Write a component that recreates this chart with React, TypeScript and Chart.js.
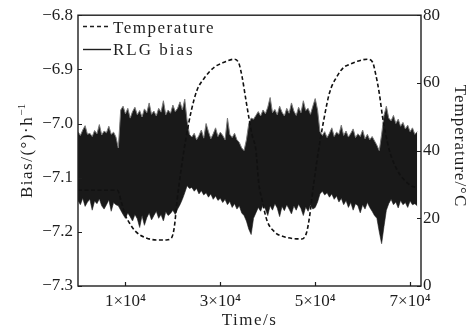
import React, { useEffect, useRef } from 'react';
import { Chart, registerables } from 'chart.js';

Chart.register(...registerables);

// RLG bias envelope, sampled every 500 s from t = 0 (values in °/h)
const biasStepSeconds = 500;
const biasUpper = [
  -7.015, -7.022, -7.012, -7.004, -7.020, -7.018, -7.024, -7.013, -7.019, -7.002, -7.021, -7.014, -7.017, -7.005, -7.020, -7.016, -7.025,
  -7.045,
  -6.975, -6.968, -6.982, -6.972, -6.990, -6.978, -6.970, -6.984, -6.976, -6.988, -6.973, -6.980, -6.962, -6.983, -6.977, -6.986, -6.972, -6.979, -6.958, -6.984, -6.975, -6.981, -6.966, -6.978, -6.972, -6.960, -6.975, -6.955,
  -6.995, -7.020,
  -7.025, -7.018, -7.030, -7.022, -7.012, -7.027, -7.000, -7.015, -7.028, -7.019, -7.008, -7.024, -7.016, -7.022, -7.030, -6.990, -7.020, -7.026, -7.018, -7.030, -7.035,
  -7.045, -7.050,
  -7.030, -7.000, -6.990,
  -6.992, -6.985, -6.978, -6.986, -6.975, -6.982, -6.970, -6.952, -6.980, -6.974, -6.984, -6.968, -6.979, -6.986, -6.972, -6.981, -6.962, -6.977, -6.985, -6.970, -6.980, -6.958, -6.976, -6.972, -6.983, -6.968, -6.954, -6.975,
  -7.015,
  -7.022, -7.015, -7.026, -7.018, -7.008, -7.024, -7.016, -7.020, -7.003, -7.022, -7.014, -7.025, -7.018, -7.010, -7.026, -7.019, -7.024, -7.012, -7.028, -7.020, -7.030, -7.024, -7.032,
  -7.040, -7.050, -7.020,
  -6.985, -6.968, -6.990, -6.995, -6.985, -7.000, -6.992, -7.005, -6.998, -7.010, -7.003, -7.015, -7.008, -7.020, -7.015,
];
const biasLower = [
  -7.142, -7.150, -7.138, -7.153, -7.145, -7.140, -7.160, -7.143, -7.148, -7.139, -7.152, -7.158, -7.150, -7.141, -7.162, -7.146, -7.150,
  -7.152,
  -7.160, -7.168, -7.175, -7.165, -7.172, -7.180, -7.168, -7.176, -7.192, -7.170, -7.188, -7.174, -7.165, -7.178, -7.170, -7.162, -7.175, -7.168, -7.180, -7.163, -7.170, -7.166, -7.160, -7.168, -7.158, -7.150, -7.140, -7.128,
  -7.115, -7.120,
  -7.118, -7.125, -7.120, -7.130, -7.124, -7.132, -7.128, -7.136, -7.130, -7.140, -7.134, -7.142, -7.138, -7.146, -7.140, -7.150, -7.144, -7.155, -7.148, -7.158, -7.152,
  -7.165, -7.170,
  -7.180, -7.195, -7.205,
  -7.175, -7.165, -7.155, -7.162, -7.150, -7.158, -7.170, -7.152, -7.160, -7.148, -7.156, -7.172, -7.153, -7.161, -7.150, -7.158, -7.167, -7.152, -7.160, -7.149, -7.157, -7.170, -7.154, -7.162, -7.150, -7.158, -7.155, -7.145,
  -7.130,
  -7.125, -7.132, -7.128, -7.136, -7.130, -7.140, -7.134, -7.145, -7.138, -7.150, -7.142, -7.155, -7.146, -7.160, -7.148, -7.152, -7.165, -7.150, -7.158, -7.146, -7.155, -7.162, -7.170,
  -7.175, -7.200, -7.222,
  -7.190, -7.160, -7.148, -7.140, -7.150, -7.145, -7.156, -7.142, -7.150, -7.146, -7.155, -7.143, -7.150, -7.148, -7.152,
];

// Temperature curve (s, °C)
const tempTime = [
  0, 8300, 9200, 9800, 10850, 12300, 14400, 16500, 18600, 19700, 20300, 20900, 21800, 22800, 23900, 25100,
  26600, 28700, 30800, 32900, 33900, 34600, 35400, 36000, 36700, 37500, 38100, 38800, 39800, 41500, 43600,
  47200, 48200, 48800, 49700, 50700, 51800, 53000, 54500, 56000, 56800, 58900, 61000, 62100, 62700, 63500,
  64200, 64800, 65800, 67300, 68800, 70000, 71000, 71500,
];
const tempValue = [
  28.3, 28.3, 24.5, 21.5, 18.6, 15.9, 14.2, 13.6, 13.6, 14.2, 17.4, 25.4, 35.1, 44.0, 51.9, 57.9,
  61.4, 64.6, 66.1, 67.0, 65.8, 61.7, 54.9, 49.9, 44.6, 40.1, 30.4, 25.4, 19.5, 15.9, 14.5,
  13.9, 15.9, 20.4, 30.4, 40.1, 49.0, 57.0, 61.7, 64.6, 65.2, 66.4, 67.0, 66.1, 62.9, 57.0,
  49.9, 45.2, 39.3, 34.2, 31.3, 29.8, 29.2, 29.0,
];

const xTickValues = [10000, 30000, 50000, 70000];
const xTickLabels = ['1×10⁴', '3×10⁴', '5×10⁴', '7×10⁴'];
const xMin = 0;
const xMax = 72300;
const biasMin = -7.3;
const biasMax = -6.8;
const tempTicks = [0, 20, 40, 60, 80];

const legendLabels = ['Temperature', 'RLG bias'];
const xTitle = 'Time/s';
const yTitleMain = 'Bias/(°)·h';
const yTitleSup = '−1';
const y1Title = 'Temperature/°C';

const INK = '#1e1e1e';
const SERIF = '"Liberation Serif", "Times New Roman", serif';

const decorPlugin = {
  id: 'decor',
  afterDraw(chart: any) {
    const { ctx, chartArea: a, scales } = chart;
    ctx.save();
    // frame
    ctx.strokeStyle = INK;
    ctx.lineWidth = 1.4;
    ctx.strokeRect(a.left, a.top, a.right - a.left, a.bottom - a.top);
    // inward tick marks
    ctx.lineWidth = 1.2;
    ctx.beginPath();
    scales.y.ticks.forEach((t: any) => {
      const py = Math.round(scales.y.getPixelForValue(t.value)) + 0.5;
      ctx.moveTo(a.left, py);
      ctx.lineTo(a.left + 4, py);
    });
    scales.y1.ticks.forEach((t: any) => {
      const py = Math.round(scales.y1.getPixelForValue(t.value)) + 0.5;
      ctx.moveTo(a.right, py);
      ctx.lineTo(a.right - 4, py);
    });
    scales.x.ticks.forEach((t: any) => {
      const px = Math.round(scales.x.getPixelForValue(t.value)) + 0.5;
      ctx.moveTo(px, a.bottom);
      ctx.lineTo(px, a.bottom - 4);
    });
    ctx.stroke();

    ctx.fillStyle = INK;
    (ctx as any).letterSpacing = '1.5px';
    ctx.font = `17px ${SERIF}`;

    // x title
    ctx.textAlign = 'center';
    ctx.textBaseline = 'alphabetic';
    ctx.fillText(xTitle, (a.left + a.right) / 2, 325);

    // left title (rotated)
    ctx.save();
    ctx.translate(32, (a.top + a.bottom) / 2);
    ctx.rotate(-Math.PI / 2);
    ctx.font = `17px ${SERIF}`;
    const w1 = ctx.measureText(yTitleMain).width;
    ctx.font = `11px ${SERIF}`;
    (ctx as any).letterSpacing = '0.5px';
    const w2 = ctx.measureText(yTitleSup).width;
    const x0 = -(w1 + w2) / 2;
    ctx.textAlign = 'left';
    ctx.font = `17px ${SERIF}`;
    (ctx as any).letterSpacing = '1.5px';
    ctx.fillText(yTitleMain, x0, 0);
    ctx.font = `11px ${SERIF}`;
    (ctx as any).letterSpacing = '0.5px';
    ctx.fillText(yTitleSup, x0 + w1, -7);
    ctx.restore();

    // right title (rotated)
    ctx.save();
    (ctx as any).letterSpacing = '1px';
    ctx.font = `17px ${SERIF}`;
    ctx.translate(455, 146);
    ctx.rotate(Math.PI / 2);
    ctx.textAlign = 'center';
    ctx.textBaseline = 'alphabetic';
    ctx.fillText(y1Title, 0, 0);
    ctx.restore();

    // legend
    ctx.strokeStyle = INK;
    ctx.lineWidth = 1.4;
    ctx.setLineDash([4, 3]);
    ctx.beginPath();
    ctx.moveTo(83, 26.5);
    ctx.lineTo(111, 26.5);
    ctx.stroke();
    ctx.setLineDash([]);
    ctx.beginPath();
    ctx.moveTo(83, 49.5);
    ctx.lineTo(111, 49.5);
    ctx.stroke();
    ctx.font = `17px ${SERIF}`;
    (ctx as any).letterSpacing = '1.5px';
    ctx.textAlign = 'left';
    ctx.textBaseline = 'alphabetic';
    ctx.fillText(legendLabels[0], 113, 33);
    (ctx as any).letterSpacing = '2px';
    ctx.fillText(legendLabels[1], 113, 55);
    (ctx as any).letterSpacing = '0px';
    ctx.restore();
  },
};

export default function App() {
  const ref = useRef<HTMLCanvasElement | null>(null);

  useEffect(() => {
    if (!ref.current) return;
    const upperPts = biasUpper.map((v, i) => ({ x: i * biasStepSeconds, y: v }));
    const lowerPts = biasLower.map((v, i) => ({ x: i * biasStepSeconds, y: v }));
    const tempPts = tempTime.map((t, i) => ({ x: t, y: tempValue[i] }));

    const chart = new Chart(ref.current, {
      type: 'line',
      data: {
        datasets: [
          {
            label: legendLabels[0],
            data: tempPts,
            yAxisID: 'y1',
            borderColor: '#111',
            borderWidth: 1.6,
            borderDash: [4, 2.5],
            pointRadius: 0,
            cubicInterpolationMode: 'monotone',
            fill: false,
            order: 0,
          },
          {
            label: legendLabels[1],
            data: upperPts,
            yAxisID: 'y',
            borderColor: '#7a7a7a',
            borderWidth: 1,
            backgroundColor: '#191919',
            pointRadius: 0,
            tension: 0,
            fill: '+1',
            order: 1,
          },
          {
            label: legendLabels[1] + ' low',
            data: lowerPts,
            yAxisID: 'y',
            borderColor: '#7a7a7a',
            borderWidth: 1,
            pointRadius: 0,
            tension: 0,
            fill: false,
            order: 2,
          },
        ],
      } as any,
      options: {
        responsive: false,
        animation: false,
        devicePixelRatio: 1,
        layout: { padding: { top: 15, left: 0, right: 0, bottom: 0 } },
        plugins: { legend: { display: false }, tooltip: { enabled: false } },
        scales: {
          x: {
            type: 'linear',
            min: xMin,
            max: xMax,
            grid: { display: false, drawTicks: false },
            border: { display: false },
            afterBuildTicks: (s: any) => {
              s.ticks = xTickValues.map((v) => ({ value: v }));
            },
            afterFit: (s: any) => {
              s.height = 49;
            },
            ticks: {
              padding: 5,
              color: INK,
              font: { family: SERIF, size: 17 },
              maxRotation: 0,
              autoSkip: false,
              callback: (v: any) => {
                const idx = xTickValues.indexOf(Number(v));
                return idx >= 0 ? xTickLabels[idx] : '';
              },
            },
          },
          y: {
            position: 'left',
            min: biasMin,
            max: biasMax,
            grid: { display: false, drawTicks: false },
            border: { display: false },
            afterFit: (s: any) => {
              s.width = 78;
            },
            ticks: {
              stepSize: 0.1,
              padding: 5,
              color: INK,
              font: { family: SERIF, size: 17 },
              callback: (v: any) => Number(v).toFixed(1).replace('-', '−'),
            },
          },
          y1: {
            position: 'right',
            min: 0,
            max: 80,
            grid: { display: false, drawTicks: false },
            border: { display: false },
            afterBuildTicks: (s: any) => {
              s.ticks = tempTicks.map((v) => ({ value: v }));
            },
            afterFit: (s: any) => {
              s.width = 49;
            },
            ticks: {
              padding: 2,
              color: INK,
              font: { family: SERIF, size: 17 },
              callback: (v: any) => String(v),
            },
          },
        },
      } as any,
      plugins: [decorPlugin],
    });
    return () => chart.destroy();
  }, []);

  return (
    <div style={{ position: 'fixed', left: 0, top: 0, width: 470, height: 335, background: '#fff' }}>
      <canvas ref={ref} width={470} height={335} style={{ display: 'block' }} />
    </div>
  );
}
